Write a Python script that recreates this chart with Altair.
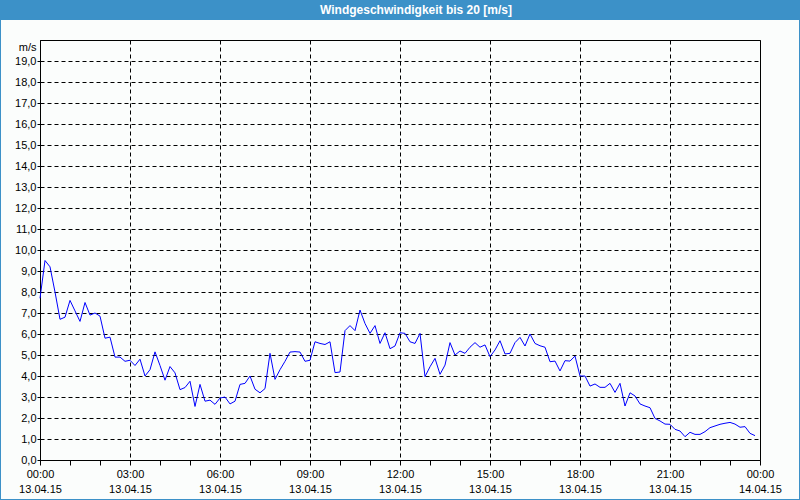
import altair as alt
import pandas as pd

# Wind speed [m/s], one value every 10 minutes, 13.04.15 00:00 .. 23:50
speed_00_06 = [7.7, 9.5, 9.2, 8.0, 6.7, 6.8, 7.6, 7.1, 6.6, 7.5, 6.9, 7.0, 6.85,
               5.8, 5.85, 4.9, 4.9, 4.7, 4.75, 4.5, 4.8, 4.0, 4.3, 5.15, 4.5, 3.8,
               4.45, 4.15, 3.35, 3.45, 3.75, 2.55, 3.6, 2.8, 2.85, 2.65, 2.95]
speed_06_12 = [3.0, 2.67, 2.8, 3.6, 3.65, 4.0, 3.37, 3.2, 3.4, 5.08, 3.84, 4.3,
               4.7, 5.14, 5.16, 5.14, 4.7, 4.75, 5.63, 5.55, 5.5, 5.63, 4.16, 4.19,
               6.16, 6.4, 6.16, 7.14, 6.5, 6.03, 6.4, 5.55, 6.06, 5.3, 5.43, 6.06]
speed_12_18 = [6.03, 5.63, 5.55, 6.03, 3.97, 4.44, 4.84, 4.08, 4.52, 5.59, 5.0,
               5.19, 5.08, 5.37, 5.59, 5.37, 5.48, 4.92, 5.24, 5.68, 5.05, 5.08,
               5.59, 5.84, 5.43, 6.0, 5.55, 5.44, 5.37, 4.68, 4.71, 4.24, 4.73,
               4.71, 4.95, 4.0]
speed_18_24 = [4.0, 3.52, 3.62, 3.46, 3.46, 3.65, 3.22, 3.65, 2.57, 3.2, 3.05,
               2.67, 2.57, 2.49, 1.98, 1.86, 1.71, 1.7, 1.46, 1.38, 1.11, 1.32,
               1.22, 1.22, 1.35, 1.54, 1.62, 1.7, 1.75, 1.79, 1.71, 1.56, 1.59,
               1.27, 1.16]

speeds = speed_00_06 + speed_06_12 + speed_12_18 + speed_18_24
times = pd.date_range("2015-04-13 00:00", periods=len(speeds), freq="10min")
df = pd.DataFrame({"t": times.strftime("%Y-%m-%dT%H:%M:%SZ"), "v": speeds})

title_text = "Windgeschwindigkeit bis 20 [m/s]"
y_ticks = list(range(0, 20))
x_ticks = [alt.DateTime(year=2015, month=4, date=13, hours=h, utc=True) for h in range(24)] + \
          [alt.DateTime(year=2015, month=4, date=14, hours=0, utc=True)]
x_domain = [alt.DateTime(year=2015, month=4, date=13, hours=0, utc=True),
            alt.DateTime(year=2015, month=4, date=14, hours=0, utc=True)]

FONT = "Liberation Sans"
BLUE_BAR = "#3c91c8"

x_enc = alt.X(
    "t:T",
    scale=alt.Scale(type="utc", domain=x_domain),
    axis=alt.Axis(
        values=x_ticks,
        title=None,
        grid=True,
        gridColor="black",
        gridDash=[4, 3],
        gridOpacity={"condition": {"test": "utchours(datum.value) % 3 == 0", "value": 1}, "value": 0},
        tickSize=5,
        tickColor="black",
        domainColor="black",
        labelExpr="utchours(datum.value) % 3 == 0 ? [utcFormat(datum.value, '%H:%M'), utcFormat(datum.value, '%d.%m.%y')] : ''",
        labelOverlap=False,
        labelFlush=False,
        labelBaseline="top",
        labelLineHeight=15,
        labelPadding=3,
    ),
)
y_enc = alt.Y(
    "v:Q",
    scale=alt.Scale(domain=[0, 20], nice=False),
    axis=alt.Axis(
        values=y_ticks,
        grid=True,
        gridColor="black",
        gridDash=[4, 3],
        tickSize=3,
        tickColor="black",
        domainColor="black",
        labelExpr="replace(format(datum.value, '.1f'), '.', ',')",
        labelPadding=1,
        title="m/s",
        titleAngle=0,
        titleX=-4,
        titleY=7,
        titleAlign="right",
        titleBaseline="middle",
        titleFont=FONT,
        titleFontSize=11,
        titleFontWeight="normal",
        titleColor="black",
    ),
)

line = alt.Chart(df).mark_line(color="#0000ff", strokeWidth=1).encode(x=x_enc, y=y_enc)

one = alt.Data(values=[{"k": 1}])
bar = alt.Chart(one).mark_rect(color=BLUE_BAR).encode(
    x=alt.value(-40), x2=alt.value(760), y=alt.value(-40), y2=alt.value(-20)
)
border = alt.Chart(one).mark_rect(fill=None, stroke=BLUE_BAR, strokeWidth=2).encode(
    x=alt.value(-40), x2=alt.value(760), y=alt.value(-40), y2=alt.value(460)
)
title = alt.Chart(one).mark_text(
    text=title_text, color="white", font=FONT, fontSize=12, fontWeight="bold",
    align="center", baseline="middle"
).encode(x=alt.value(376), y=alt.value(-30))

chart = alt.layer(bar, border, line, title).properties(
    width=720, height=420,
    autosize=alt.AutoSizeParams(type="none"),
    padding={"left": 40, "top": 40, "right": 40, "bottom": 40},
    background="#fbfdfc",
).configure_view(stroke="black", strokeWidth=1).configure_axis(
    labelFont=FONT, labelFontSize=11, labelColor="black"
)

chart.save("out.html", embed_options={"renderer": "svg", "actions": False})
